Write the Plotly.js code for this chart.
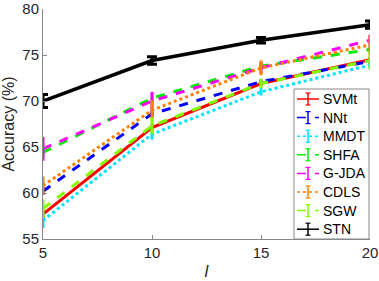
<!DOCTYPE html>
<html><head><meta charset="utf-8">
<script src="https://cdn.plot.ly/plotly-3.0.1.min.js"></script>
<style>body{margin:0;padding:0;background:#fff}#chart{width:379px;height:281px}</style>
</head><body><div id="chart"></div>
<script>
var xVals = [5, 10, 15, 20];
var names = ['SVMt','NNt','MMDT','SHFA','G-JDA','CDLS','SGW','STN'];
var svmt = [57.7, 67.1, 71.9, 74.5];
var nnt  = [60.2, 68.6, 72.1, 74.3];
var mmdt = [57.0, 66.4, 71.0, 73.9];
var shfa = [64.4, 70.3, 73.8, 75.6];
var gjda = [64.8, 70.0, 73.6, 76.6];
var cdls = [60.8, 69.0, 73.6, 76.1];
var sgw  = [58.3, 67.3, 71.9, 74.4];
var stn  = [70.0, 74.4, 76.6, 78.3];
var errSvmt = [0.5, 0.4, 0.3, 0.3];
var errNnt  = [0.4, 0.4, 0.3, 0.3];
var errMmdt = [0.8, 0.6, 0.4, 0.3];
var errShfa = [0.5, 0.5, 0.4, 0.4];
var errGjda = [1.3, 1.0, 0.6, 0.6];
var errCdls = [1.0, 1.1, 0.8, 1.1];
var errSgw  = [1.0, 0.9, 0.5, 1.0];
var errStn  = [0.7, 0.4, 0.3, 0.4];

var series = [svmt, nnt, mmdt, shfa, gjda, cdls, sgw, stn];
var errs = [errSvmt, errNnt, errMmdt, errShfa, errGjda, errCdls, errSgw, errStn];
var colors = ['#ff0000','#0000ff','#00e5ff','#00ee00','#ff00ff','#ff8000','#80ff00','#000000'];
var dashes = ['solid','dash','dot','dash','dash','dot','dash','solid'];
var legDashes = ['solid','dash','dot','dash','dash','dot','dash','solid'];

var traces = names.map(function(n, i){
  return {
    x: xVals, y: series[i], name: n, type: 'scatter', mode: 'lines',
    showlegend: false,
    line: {color: colors[i], width: (i===7?3.5:3), dash: dashes[i]},
    error_y: {type: 'data', array: errs[i], visible: true, color: colors[i], thickness: 3, width: (i===7?5:0)}
  };
});

// custom legend box (pixel positions converted to paper coords)
var L = 43, R = 370, T = 9, B = 239;
function px(x){ return (x - L) / (R - L); }
function py(y){ return (B - y) / (B - T); }
var shapes = [{type:'rect', xref:'paper', yref:'paper', x0:px(294), x1:px(369), y0:py(239), y1:py(89),
  fillcolor:'#fff', line:{color:'#888', width:1}, layer:'above'}];
var annotations = [];
names.forEach(function(n, i){
  var yc = 99 + i * 18.6;
  shapes.push({type:'line', xref:'paper', yref:'paper', x0:px(297), x1:px(319), y0:py(yc), y1:py(yc),
    line:{color:colors[i], width:1.5, dash:legDashes[i]}, layer:'above'});
  shapes.push({type:'line', xref:'paper', yref:'paper', x0:px(308), x1:px(308), y0:py(yc-6), y1:py(yc+6),
    line:{color:colors[i], width:1.5}, layer:'above'});
  shapes.push({type:'line', xref:'paper', yref:'paper', x0:px(305.5), x1:px(310.5), y0:py(yc-6), y1:py(yc-6),
    line:{color:colors[i], width:1.2}, layer:'above'});
  shapes.push({type:'line', xref:'paper', yref:'paper', x0:px(305.5), x1:px(310.5), y0:py(yc+6), y1:py(yc+6),
    line:{color:colors[i], width:1.2}, layer:'above'});
  annotations.push({xref:'paper', yref:'paper', x:px(321), y:py(yc), xanchor:'left', yanchor:'middle',
    text:n, showarrow:false, font:{size:14, color:'#000'}});
});

var layout = {
  width: 379, height: 281,
  margin: {l: 43, r: 9, t: 9, b: 42},
  paper_bgcolor: '#fff', plot_bgcolor: '#fff',
  font: {family: 'Liberation Sans, Arial, sans-serif', color: '#262626'},
  showlegend: false,
  shapes: shapes, annotations: annotations,
  xaxis: {range: [5, 20], tickvals: [5,10,15,20], ticks: 'inside', ticklen: 4,
    tickcolor: '#888', showline: true, linecolor: '#888', linewidth: 1,
    showgrid: false, zeroline: false, tickfont: {size: 15}, ticklabeloverflow: 'allow',
    title: {text: '<i>l</i>', font: {size: 17}, standoff: 7}},
  yaxis: {range: [55, 80], tickvals: [55,60,65,70,75,80], ticks: 'inside', ticklen: 4,
    tickcolor: '#888', showline: true, linecolor: '#888', linewidth: 1,
    showgrid: false, zeroline: false, tickfont: {size: 15}, ticklabeloverflow: 'allow',
    title: {text: 'Accuracy (%)', font: {size: 16}, standoff: 5}}
};
Plotly.newPlot('chart', traces, layout, {displayModeBar: false, staticPlot: true});
</script></body></html>
